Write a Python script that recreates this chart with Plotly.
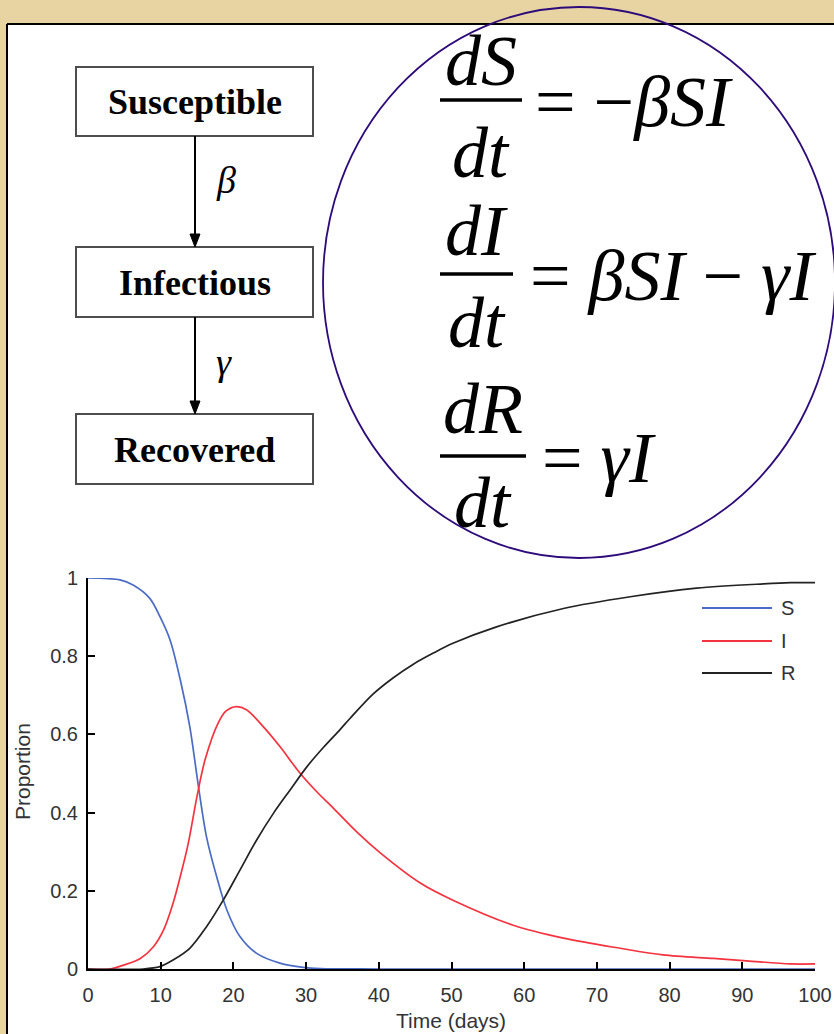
import plotly.graph_objects as go

W, H = 834, 1034

# ---------------- data ----------------
t_S = [0, 4.4, 6.2, 8.5, 9.9, 11.3, 12.7, 14.0, 15.2, 16.3, 17.7, 19.1, 20.9, 23.2, 26.4, 29.6, 32, 40, 70, 100]
S = [1.0, 0.995, 0.982, 0.948, 0.901, 0.841, 0.739, 0.62, 0.466, 0.338, 0.236, 0.151, 0.083, 0.04, 0.015, 0.004, 0.001, 0, 0, 0]

t_I = [0, 3.0, 4.9, 7.2, 9.0, 10.4, 11.7, 12.7, 13.8, 15.0, 16.1, 17.9, 19.0, 20.4, 21.8, 24.1, 26.4, 29.2, 31.9, 33.3, 37.0,
       40.2, 45.7, 50.2, 58.5, 65.4, 73.2, 79.1, 86.0, 90.6, 96.6, 100]
I = [0, 0, 0.010, 0.027, 0.057, 0.100, 0.168, 0.237, 0.322, 0.442, 0.535, 0.629, 0.660, 0.671, 0.663, 0.620, 0.569, 0.500, 0.445, 0.42, 0.350,
     0.297, 0.220, 0.176, 0.112, 0.079, 0.053, 0.036, 0.027, 0.021, 0.013, 0.013]

t_R = [0, 7.6, 9.9, 11.7, 14.0, 16.3, 18.6, 20.9, 23.2, 25.5, 27.8, 30.1, 32.4, 34.7, 36.0, 39.2, 42.0, 44.7, 47.5, 50.2, 56.2, 65.4,
       74.6, 83.7, 92.9, 96.6, 100]
R = [0, 0, 0.006, 0.023, 0.053, 0.108, 0.176, 0.253, 0.330, 0.398, 0.458, 0.517, 0.567, 0.613, 0.640, 0.703, 0.745, 0.779, 0.808, 0.833, 0.875, 0.922,
     0.952, 0.974, 0.985, 0.988, 0.988]

series_names = ["S", "I", "R"]
series_colors = ["#4a6cc4", "#f5333f", "#222222"]

x_ticks = [0, 10, 20, 30, 40, 50, 60, 70, 80, 90, 100]
y_ticks = [0, 0.2, 0.4, 0.6, 0.8, 1]
y_tick_text = ["0", "0.2", "0.4", "0.6", "0.8", "1"]

boxes = ["Susceptible", "Infectious", "Recovered"]
rates = ["β", "γ"]


def px(x):
    return x / W


def py(y):
    return 1 - y / H


fig = go.Figure()
for t, v, n, c in zip([t_S, t_I, t_R], [S, I, R], series_names, series_colors):
    fig.add_trace(go.Scatter(x=t, y=v, mode="lines", name=n,
                             line=dict(color=c, width=1.7, shape="spline", smoothing=0.9), showlegend=False))

shapes = []
ann = []

SERIF = "Liberation Serif, Times New Roman, serif"
SANS = "Liberation Sans, Arial, sans-serif"

# white panel with black top/left border (kept inside the paper)
shapes.append(dict(type="rect", xref="paper", yref="paper", x0=px(7), x1=1, y0=0, y1=py(24),
                   fillcolor="white", line=dict(width=0), layer="below"))
shapes.append(dict(type="line", xref="paper", yref="paper", x0=px(7), x1=1, y0=py(24), y1=py(24),
                   line=dict(color="black", width=2), layer="below"))
shapes.append(dict(type="line", xref="paper", yref="paper", x0=px(7), x1=px(7), y0=0, y1=py(24),
                   line=dict(color="black", width=2), layer="below"))

# flowchart boxes
box_y = [(67, 136), (247, 317), (414, 484)]
for (y0, y1), label in zip(box_y, boxes):
    shapes.append(dict(type="rect", xref="paper", yref="paper", x0=px(76), x1=px(313), y0=py(y1), y1=py(y0),
                       line=dict(color="#4d4d4d", width=2)))
    ann.append(dict(x=px(194.5), y=py((y0 + y1) / 2 + 1), xref="paper", yref="paper", text="<b>%s</b>" % label,
                    showarrow=False, xanchor="center", yanchor="middle",
                    font=dict(family=SERIF, size=36, color="black")))

# arrows
for (ya, yb), r, ry in zip([(136, 247), (317, 414)], rates, [180, 362]):
    shapes.append(dict(type="line", xref="paper", yref="paper", x0=px(195), x1=px(195), y0=py(ya), y1=py(yb - 10),
                       line=dict(color="black", width=2)))
    shapes.append(dict(type="path", xref="paper", yref="paper",
                       path="M %f %f L %f %f L %f %f Z" % (px(190), py(yb - 13), px(200), py(yb - 13), px(195), py(yb)),
                       fillcolor="black", line=dict(color="black", width=1)))
    ann.append(dict(x=px(214), y=py(ry), xref="paper", yref="paper", text="<i>%s</i>" % r,
                    showarrow=False, xanchor="left", yanchor="middle",
                    font=dict(family=SERIF, size=38, color="black")))

# equations
EQF = dict(family=SERIF, size=72, color="black")
eqs = [("dS", 100, (440, 522), "= −<i>βSI</i>", 533, 0, 14),
       ("dI", 274, (440, 513), "= <i>βSI</i> − <i>γI</i>", 528, -4, 10),
       ("dR", 456, (440, 526), "= <i>γI</i>", 540, -8, 8)]
for num, by, (bx0, bx1), rhs, rx, dn, dd in eqs:
    cx = (bx0 + bx1) / 2
    shapes.append(dict(type="line", xref="paper", yref="paper", x0=px(bx0), x1=px(bx1), y0=py(by), y1=py(by),
                       line=dict(color="black", width=3.5)))
    ann.append(dict(x=px(cx), y=py(by + 3 + dn), xref="paper", yref="paper", text="<i>%s</i>" % num,
                    showarrow=False, xanchor="center", yanchor="bottom", font=EQF))
    ann.append(dict(x=px(cx), y=py(by - 3 + dd), xref="paper", yref="paper", text="<i>dt</i>",
                    showarrow=False, xanchor="center", yanchor="top", font=EQF))
    ann.append(dict(x=px(rx), y=py(by + 2), xref="paper", yref="paper", text=rhs,
                    showarrow=False, xanchor="left", yanchor="middle", font=EQF))

# circle
shapes.append(dict(type="circle", xref="paper", yref="paper", x0=px(323), x1=px(835), y0=py(558), y1=py(7),
                   line=dict(color="#2e0b7a", width=1.8)))

# legend
for i, (n, c) in enumerate(zip(series_names, series_colors)):
    ly = [608, 641, 673][i]
    shapes.append(dict(type="line", xref="paper", yref="paper", x0=px(702), x1=px(772), y0=py(ly), y1=py(ly),
                       line=dict(color=c, width=1.8)))
    ann.append(dict(x=px(779), y=py(ly), xref="paper", yref="paper", text=n, showarrow=False,
                    xanchor="left", yanchor="middle",
                    font=dict(family=SANS, size=20, color="#333")))

# axis titles
ann.append(dict(x=px(451), y=py(1020), xref="paper", yref="paper", text="Time (days)", showarrow=False,
                xanchor="center", yanchor="middle",
                font=dict(family=SANS, size=21, color="#333")))
ann.append(dict(x=px(22), y=py(772), xref="paper", yref="paper", text="Proportion", showarrow=False,
                xanchor="center", yanchor="middle", textangle=-90,
                font=dict(family=SANS, size=21, color="#333")))

TICKF = dict(family=SANS, size=20, color="#333")
fig.update_layout(
    width=W, height=H, margin=dict(l=0, r=0, t=0, b=0, pad=0, autoexpand=False),
    paper_bgcolor="#e8d4a2", plot_bgcolor="rgba(0,0,0,0)",
    shapes=shapes, annotations=ann, showlegend=False,
    xaxis=dict(domain=[px(88), px(815)], range=[0, 100], tickvals=x_ticks, ticks="inside", ticklen=7,
               tickwidth=1.5, tickcolor="black", showline=True, linecolor="black", linewidth=2,
               showgrid=False, zeroline=False, tickfont=TICKF, ticklabelstandoff=7, anchor="y",
               automargin=False),
    yaxis=dict(domain=[py(969), py(578)], range=[0, 1], tickvals=y_ticks, ticktext=y_tick_text,
               ticks="inside", ticklen=7, tickwidth=1.5, tickcolor="black", showline=True, linecolor="black",
               linewidth=2, showgrid=False, zeroline=False, tickfont=TICKF, ticklabelstandoff=4, anchor="x",
               automargin=False),
)

fig.write_html("out.html", config={"displayModeBar": False},
               post_script="document.body.style.margin='0';document.body.style.overflow='hidden';")
